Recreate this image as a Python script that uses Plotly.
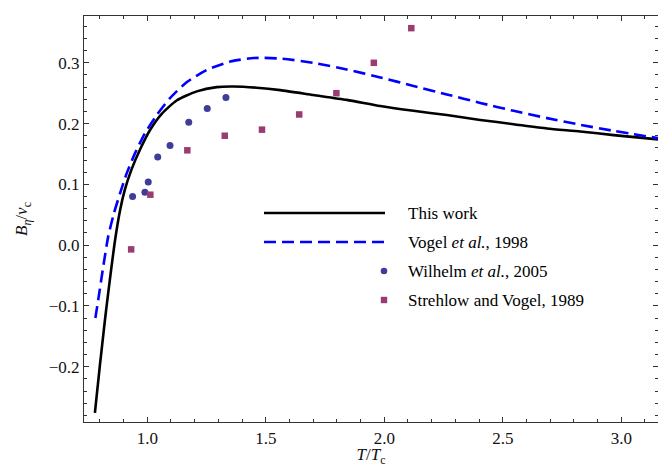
import plotly.graph_objects as go

# ---- data ----
this_T = [0.779, 0.79, 0.80, 0.81, 0.82, 0.83, 0.845, 0.864, 0.885, 0.906, 0.934, 0.969, 1.011,
          1.061, 1.124, 1.209, 1.293, 1.363, 1.462, 1.561, 1.701, 1.842, 1.983, 2.123, 2.264,
          2.405, 2.546, 2.687, 2.827, 2.968, 3.155]
this_B = [-0.276, -0.235, -0.198, -0.163, -0.128, -0.095, -0.048, 0.008, 0.057, 0.092, 0.125,
          0.157, 0.189, 0.216, 0.238, 0.253, 0.260, 0.261, 0.259, 0.255, 0.247, 0.239, 0.229,
          0.221, 0.214, 0.206, 0.199, 0.192, 0.187, 0.181, 0.174]

vogel_T = [0.781, 0.793, 0.814, 0.835, 0.859, 0.885, 0.913, 0.948, 0.990, 1.040, 1.096, 1.166,
           1.25, 1.35, 1.45, 1.561, 1.701, 1.842, 1.983, 2.123, 2.264, 2.405, 2.546, 2.687,
           2.827, 2.968, 3.155]
vogel_B = [-0.120, -0.090, -0.036, 0.014, 0.052, 0.085, 0.118, 0.151, 0.184, 0.214, 0.242, 0.268,
           0.288, 0.302, 0.308, 0.307, 0.300, 0.289, 0.276, 0.262, 0.248, 0.234, 0.221, 0.209,
           0.198, 0.188, 0.176]

wilhelm_T = [0.938, 0.990, 1.004, 1.044, 1.096, 1.175, 1.253, 1.332]
wilhelm_B = [0.080, 0.087, 0.104, 0.145, 0.164, 0.202, 0.225, 0.243]

strehlow_T = [0.932, 1.013, 1.169, 1.327, 1.484, 1.641, 1.798, 1.956, 2.114]
strehlow_B = [-0.007, 0.083, 0.156, 0.180, 0.190, 0.215, 0.250, 0.300, 0.357]

legend_labels = ["This work", "Vogel <i>et al.</i>, 1998",
                 "Wilhelm <i>et al.</i>, 2005", "Strehlow and Vogel, 1989"]

x_ticks = [1.0, 1.5, 2.0, 2.5, 3.0]
y_ticks = [-0.2, -0.1, 0.0, 0.1, 0.2, 0.3]

# ---- styling ----
FONT = "Liberation Serif, Times New Roman, serif"
BLACK = "#000000"
BLUE = "#0000FF"
CIRC = "#3F3D99"
SQR = "#993D71"
W, H = 658, 467
L, R, T, B = 84, 0, 16, 45

fig = go.Figure()
fig.add_trace(go.Scatter(x=this_T, y=this_B, mode="lines",
                         line=dict(color=BLACK, width=2.6, shape="spline", smoothing=0.6),
                         showlegend=False, hoverinfo="skip"))
fig.add_trace(go.Scatter(x=vogel_T, y=vogel_B, mode="lines",
                         line=dict(color=BLUE, width=2.6, dash="12px,6px", shape="spline", smoothing=0.6),
                         showlegend=False, hoverinfo="skip"))
fig.add_trace(go.Scatter(x=wilhelm_T, y=wilhelm_B, mode="markers",
                         marker=dict(color=CIRC, size=7, symbol="circle"), showlegend=False))
fig.add_trace(go.Scatter(x=strehlow_T, y=strehlow_B, mode="markers",
                         marker=dict(color=SQR, size=6.5, symbol="square"), showlegend=False))

# ---- custom legend (paper coordinates) ----
pw, ph = W - L - R, H - T - B
def px(xpix):
    return (xpix - L) / pw
def py(ypix):
    return 1 - (ypix - T) / ph

rows = [213, 242, 271, 300]
shapes = []
shapes.append(dict(type="line", xref="paper", yref="paper", x0=px(264), x1=px(385), y0=py(rows[0]), y1=py(rows[0]),
                   line=dict(color=BLACK, width=2.6)))
shapes.append(dict(type="line", xref="paper", yref="paper", x0=px(264), x1=px(385), y0=py(rows[1]), y1=py(rows[1]),
                   line=dict(color=BLUE, width=2.6, dash="12px,6px")))
r = 3.3
shapes.append(dict(type="circle", xref="paper", yref="paper", x0=px(384 - r), x1=px(384 + r),
                   y0=py(rows[2] + r), y1=py(rows[2] - r), fillcolor=CIRC, line=dict(width=0)))
s = 3.2
shapes.append(dict(type="rect", xref="paper", yref="paper", x0=px(384 - s), x1=px(384 + s),
                   y0=py(rows[3] + s), y1=py(rows[3] - s), fillcolor=SQR, line=dict(width=0)))

annotations = []
for lab, yy in zip(legend_labels, rows):
    annotations.append(dict(text=lab, xref="paper", yref="paper", x=px(406), y=py(yy), xanchor="left",
                            yanchor="middle", showarrow=False, font=dict(family=FONT, size=17, color="#000")))

axis_common = dict(showline=True, linecolor="#333333", linewidth=1.2, mirror="ticks", ticks="inside",
                   ticklen=5, tickwidth=1, tickcolor="#333333", showgrid=False, zeroline=False,
                   tickfont=dict(family=FONT, size=17, color="#111"))

fig.update_layout(
    width=W, height=H, margin=dict(l=L, r=R, t=T, b=B),
    paper_bgcolor="white", plot_bgcolor="white",
    xaxis=dict(range=[0.733, 3.155], tickvals=x_ticks, ticktext=[f"{v:.1f}" for v in x_ticks],
               minor=dict(dtick=0.1, tick0=0, ticks="inside", ticklen=3, tickcolor="#333333"),
               title=dict(text="<i>T</i>/<i>T</i><sub>c</sub>", font=dict(family=FONT, size=17, color="#111"),
                          standoff=1),
               **axis_common),
    yaxis=dict(range=[-0.291, 0.377], tickvals=y_ticks,
               ticktext=[("\u2212" if v < 0 else "") + f"{abs(v):.1f}" for v in y_ticks],
               minor=dict(dtick=0.02, tick0=0, ticks="inside", ticklen=3, tickcolor="#333333"),
               title=dict(text="<i>B</i><sub><i>\u03b7</i></sub>/<i>v</i><sub>c</sub>",
                          font=dict(family=FONT, size=17, color="#111"), standoff=16),
               **axis_common),
    shapes=shapes, annotations=annotations, showlegend=False,
)

fig.write_html("out.html", config={"displayModeBar": False},
               post_script="document.body.style.margin='0px';")
